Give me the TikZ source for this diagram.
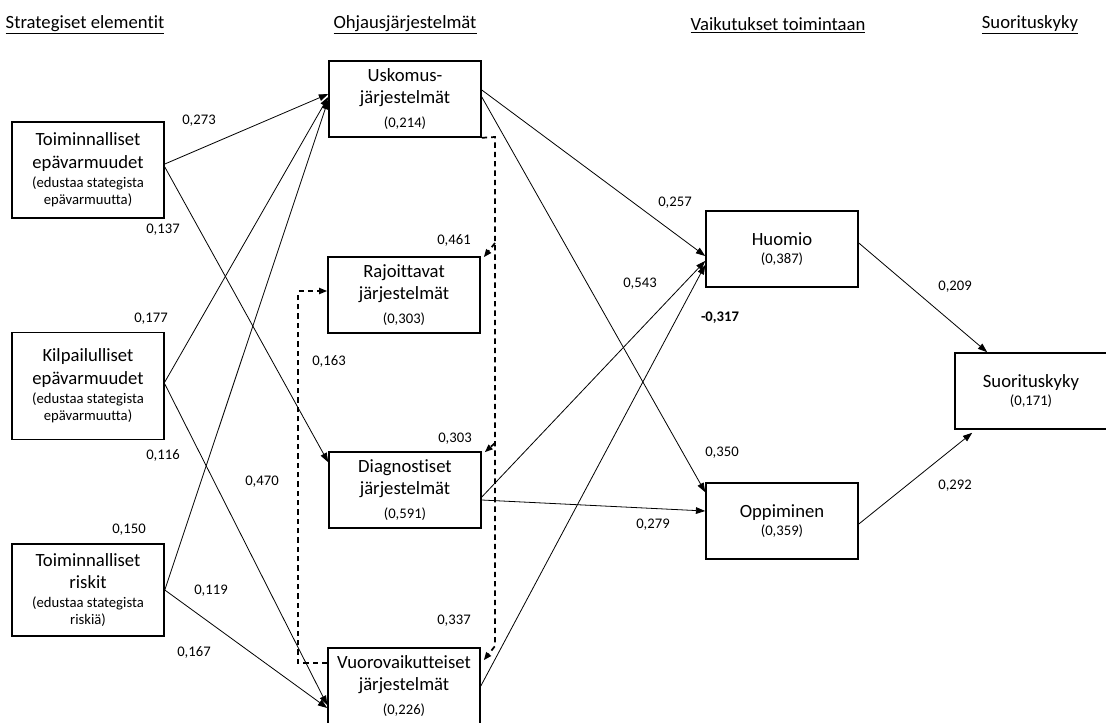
\documentclass[tikz,border=0pt]{standalone}
\usepackage{fontspec}
\setmainfont{Carlito}[Ligatures=NoCommon]
\usetikzlibrary{arrows.meta,calc}
\newcommand{\pienet}[1]{{\fontsize{11}{13}\selectfont #1}}

\begin{document}
\begin{tikzpicture}[x=0.75pt, y=-0.75pt,
        laatikko/.style={draw, line width=1.2pt, inner sep=0pt, align=center, minimum width=114pt, minimum height=57pt, font=\fontsize{14}{17}\selectfont},
        nuoli/.style={-{Triangle[length=7pt,width=5pt]}, line width=0.6pt},
        katko/.style={-{Triangle[length=6pt,width=4.5pt]}, line width=1.3pt, dash pattern=on 4pt off 3pt},
        arvo/.style={font=\fontsize{11}{13}\selectfont},
        otsikko/.style={font=\fontsize{14}{17}\selectfont}]
        \useasboundingbox (0,0) rectangle (1106,722);

        % Otsikot
        \node[otsikko] (h1) at (85,25) {\underline{Strategiset elementit}};
        \node[otsikko] (h2) at (405,25) {\underline{Ohjausjärjestelmät}};
        \node[otsikko] (h3) at (778,25) {\underline{Vaikutukset toimintaan}};
        \node[otsikko] (h4) at (1030,25) {\underline{Suorituskyky}};

        % Strategiset elementit
        \node[laatikko, minimum height=72pt] (te) at (88,170) {Toiminnalliset\\epävarmuudet\\[-3pt]\pienet{(edustaa stategista}\\[-4pt]\pienet{epävarmuutta)}};
        \node[laatikko, minimum height=80pt] (ke) at (88,386) {Kilpailulliset\\epävarmuudet\\[-3pt]\pienet{(edustaa stategista}\\[-4pt]\pienet{epävarmuutta)}};
        \node[laatikko, minimum height=69pt] (tr) at (88,590) {Toiminnalliset\\riskit\\[-3pt]\pienet{(edustaa stategista}\\[-4pt]\pienet{riskiä)}};

        % Ohjausjärjestelmät
        \node[laatikko] (us) at (405,99) {Uskomus-\\järjestelmät\\[1pt]\pienet{(0,214)}};
        \node[laatikko] (rj) at (404,295) {Rajoittavat\\järjestelmät\\[1pt]\pienet{(0,303)}};
        \node[laatikko] (dg) at (405,490) {Diagnostiset\\järjestelmät\\[1pt]\pienet{(0,591)}};
        \node[laatikko] (vv) at (404,686) {Vuorovaikutteiset\\järjestelmät\\[1pt]\pienet{(0,226)}};

        % Vaikutukset ja suorituskyky
        \node[laatikko] (hu) at (782,249) {Huomio\\[-3.5pt]\pienet{(0,387)}};
        \node[laatikko] (op) at (782,521) {Oppiminen\\[-3.5pt]\pienet{(0,359)}};
        \node[laatikko] (su) at (1031,391) {Suorituskyky\\[-3.5pt]\pienet{(0,171)}};

        % Nuolet vasemmalta
        \draw[nuoli] ($(te.east)+(0,-6)$) -- ($(us.west)+(0,-5)$);
        \draw[nuoli] ($(te.east)+(0,-3)$) -- ($(dg.north west)+(0,11)$);
        \draw[nuoli] ($(ke.east)+(0,-4)$) -- ($(us.west)+(0,-2)$);
        \draw[nuoli] ($(ke.east)+(0,-2)$) -- ($(vv.west)+(0,19)$);
        \draw[nuoli] (tr.east) -- ($(us.west)+(0,1)$);
        \draw[nuoli] (tr.east) -- ($(vv.west)+(0,22)$);

        % Katkoviivat
        \coordinate (r0) at (495,137);
        \coordinate (r1) at (495,243);
        \coordinate (r2) at (495,443);
        \coordinate (r3) at (495,646);
        \draw[katko] (us.south east) -- (r0) -- (r3) -- ($(vv.north east)+(3,13)$);
        \draw[katko] (r1) -- ($(rj.north east)+(3,1)$);
        \draw[katko] (r2) -- ($(dg.north east)+(3,1)$);
        \draw[katko] ($(vv.west)+(0,-23)$) -- ++(-29,0) |- ($(rj.west)+(0,-4)$);

        % Nuolet oikealle
        \draw[nuoli] ($(us.east)+(0,-9)$) -- ($(hu.west)+(0,7)$);
        \draw[nuoli] ($(us.east)+(0,-2)$) -- ($(op.north west)+(0,10)$);
        \draw[nuoli] ($(dg.east)+(0,7)$) -- ($(hu.west)+(0,12)$);
        \draw[nuoli] ($(dg.east)+(0,10)$) -- ($(op.west)+(0,-10)$);
        \draw[nuoli] (vv.east) -- ($(hu.west)+(0,16)$);
        \draw[nuoli] ($(hu.east)+(0,-6)$) -- ($(su.north west)+(33,0)$);
        \draw[nuoli] ($(op.east)+(0,3)$) -- ($(su.south west)+(18,3)$);

        % Kertoimet
        \node[arvo] (k1) at (199,121) {0,273};
        \node[arvo] (k2) at (163,230) {0,137};
        \node[arvo] (k3) at (151,319) {0,177};
        \node[arvo] (k4) at (163,455) {0,116};
        \node[arvo] (k5) at (129,530) {0,150};
        \node[arvo] (k6) at (211,591) {0,119};
        \node[arvo] (k7) at (194,652) {0,167};
        \node[arvo] (k8) at (262,482) {0,470};
        \node[arvo] (k9) at (329,361) {0,163};
        \node[arvo] (k10) at (454,240) {0,461};
        \node[arvo] (k11) at (455,439) {0,303};
        \node[arvo] (k12) at (454,621) {0,337};
        \node[arvo] (k13) at (675,203) {0,257};
        \node[arvo] (k14) at (640,284) {0,543};
        \node[arvo] (k15) at (720,318) {\textbf{-0,317}};
        \node[arvo] (k16) at (722,453) {0,350};
        \node[arvo] (k17) at (653,525) {0,279};
        \node[arvo] (k18) at (955,287) {0,209};
        \node[arvo] (k19) at (955,486) {0,292};
    \end{tikzpicture}
\end{document}
